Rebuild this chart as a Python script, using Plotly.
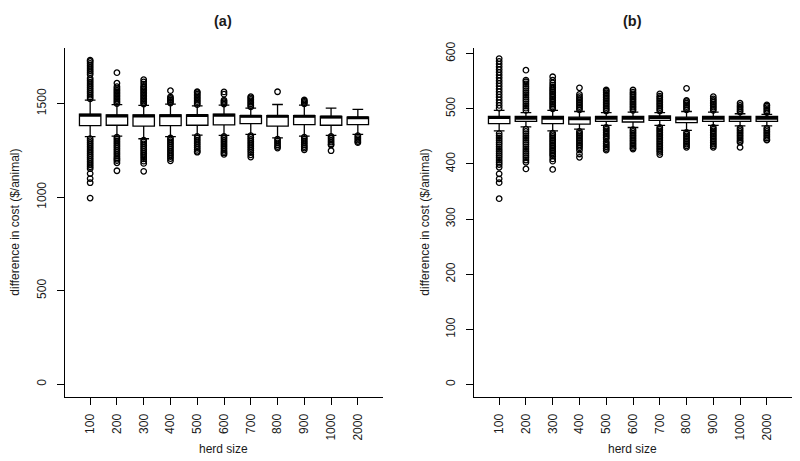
import plotly.graph_objects as go

herd_sizes = ["100", "200", "300", "400", "500", "600", "700", "800", "900", "1000", "2000"]
positions = list(range(1, 12))

# ---- panel (a) ----
a_q1 = [1382, 1384, 1379, 1382, 1384, 1386, 1393, 1379, 1387, 1384, 1387]
a_median = [1438, 1434, 1434, 1435, 1436, 1438, 1432, 1432, 1432, 1428, 1424]
a_q3 = [1443, 1440, 1440, 1440, 1440, 1443, 1436, 1436, 1436, 1431, 1427]
a_upper = [1518, 1494, 1490, 1497, 1488, 1492, 1476, 1495, 1492, 1476, 1469]
a_lower = [1323, 1326, 1312, 1323, 1331, 1330, 1335, 1317, 1326, 1330, 1335]
a_outliers = [
    [1525, 1535, 1545, 1555, 1565, 1575, 1585, 1595, 1605, 1615, 1625, 1635, 1655, 1665, 1675, 1685,
     1695, 1705, 1715, 1725, 1732,
     1312, 1302, 1292, 1282, 1272, 1262, 1252, 1242, 1232, 1222, 1212, 1202, 1192, 1182, 1172, 1162,
     1152, 1126, 1099, 1077, 995],
    [1500, 1508, 1516, 1524, 1532, 1540, 1548, 1556, 1564, 1572, 1580, 1590, 1609, 1665,
     1320, 1310, 1300, 1290, 1280, 1270, 1260, 1250, 1240, 1230, 1220, 1210, 1203, 1195, 1183, 1141],
    [1497, 1505, 1513, 1521, 1529, 1537, 1545, 1553, 1561, 1569, 1577, 1585, 1592, 1604, 1616, 1628,
     1305, 1295, 1285, 1275, 1265, 1255, 1245, 1235, 1225, 1215, 1204, 1192, 1180, 1138],
    [1503, 1511, 1519, 1527, 1535, 1569,
     1316, 1306, 1296, 1286, 1276, 1266, 1256, 1246, 1236, 1226, 1216, 1206, 1194],
    [1494, 1502, 1510, 1518, 1526, 1534, 1542, 1550, 1558, 1563,
     1325, 1315, 1305, 1295, 1285, 1275, 1265, 1255, 1245, 1240],
    [1497, 1504, 1511, 1518, 1550, 1562,
     1324, 1314, 1304, 1294, 1284, 1274, 1264, 1254, 1244, 1236, 1228],
    [1482, 1490, 1498, 1506, 1514, 1522, 1530, 1537,
     1329, 1319, 1309, 1299, 1289, 1279, 1269, 1259, 1249, 1238, 1226, 1214],
    [1563,
     1310, 1300, 1290, 1280, 1270, 1262],
    [1499, 1506, 1513, 1519,
     1320, 1310, 1300, 1290, 1280, 1270, 1262, 1253],
    [1324, 1314, 1304, 1294, 1284, 1278, 1248],
    [1329, 1321, 1313, 1305, 1297, 1291],
]

# ---- panel (b) ----
b_q1 = [473, 477, 473, 472, 477, 476, 479, 475, 477, 477, 477]
b_median = [484, 483, 483, 482, 483, 483, 484, 482, 483, 483, 483]
b_q3 = [486, 486, 486, 485, 486, 486, 487, 485, 486, 486, 486]
b_upper = [497, 493, 497, 495, 493, 494, 493, 495, 494, 491, 490]
b_lower = [460, 467, 460, 463, 470, 466, 470, 461, 470, 469, 469]
b_outliers = [
    [501, 506, 511, 516, 521, 526, 531, 536, 541, 546, 551, 556, 561, 566, 571, 576, 581, 586, 591,
     455, 451, 447, 443, 439, 435, 431, 427, 423, 419, 415, 411, 407, 403, 399, 394, 382, 373, 366, 337],
    [497, 501, 505, 509, 513, 517, 521, 525, 529, 533, 537, 541, 545, 549, 552, 570,
     463, 459, 455, 451, 447, 443, 439, 435, 431, 427, 423, 419, 415, 411, 407, 403, 391],
    [500, 503, 506, 509, 512, 515, 518, 521, 524, 527, 530, 533, 536, 539, 543, 547, 552, 558,
     456, 453, 450, 447, 444, 441, 438, 435, 432, 429, 426, 423, 420, 417, 414, 409, 405, 390],
    [498, 501, 504, 507, 510, 513, 516, 519, 522, 526, 538,
     459, 456, 453, 450, 447, 444, 441, 438, 435, 432, 429, 425, 418, 412],
    [496, 499, 502, 505, 508, 511, 514, 517, 520, 523, 526, 529, 532, 534,
     466, 463, 460, 457, 454, 451, 448, 445, 440, 437, 434, 431, 428, 425],
    [497, 500, 503, 506, 509, 512, 515, 518, 521, 524, 527, 530, 534,
     462, 459, 456, 453, 450, 447, 444, 441, 438, 435, 432, 429, 427],
    [496, 499, 502, 505, 508, 511, 514, 517, 520, 523, 527,
     466, 463, 460, 457, 454, 451, 448, 445, 442, 439, 436, 433, 430, 427, 424, 421, 417],
    [498, 501, 504, 507, 510, 513, 515, 537,
     457, 454, 451, 448, 445, 442, 439, 436, 433, 430],
    [497, 500, 503, 506, 509, 512, 515, 518, 522,
     466, 463, 460, 457, 454, 451, 448, 445, 442, 439, 436, 433, 430],
    [494, 497, 500, 503, 506, 510,
     465, 462, 459, 456, 453, 450, 447, 444, 441, 439, 430],
    [493, 496, 499, 502, 505, 507,
     465, 462, 459, 456, 453, 450, 447, 444, 443],
]

BOX_W = 0.8
FONT = "Liberation Sans, Arial, sans-serif"
TXT = "#1a1a1a"

fig = go.Figure()


def add_panel(q1, med, q3, lo, up, outl, xa, ya):
    fig.add_trace(go.Box(
        x=positions, q1=q1, median=med, q3=q3, lowerfence=lo, upperfence=up,
        width=BOX_W, whiskerwidth=0.5, boxpoints=False,
        fillcolor="white", line=dict(color="black", width=1.3),
        xaxis=xa, yaxis=ya, showlegend=False, hoverinfo="skip"))
    mx, my = [], []
    for p, m in zip(positions, med):
        mx += [p - BOX_W / 2, p + BOX_W / 2, None]
        my += [m, m, None]
    fig.add_trace(go.Scatter(x=mx, y=my, mode="lines", line=dict(color="black", width=3),
                             xaxis=xa, yaxis=ya, showlegend=False, hoverinfo="skip"))
    ox, oy = [], []
    for p, vals in zip(positions, outl):
        ox += [p] * len(vals)
        oy += vals
    fig.add_trace(go.Scatter(x=ox, y=oy, mode="markers",
                             marker=dict(symbol="circle-open", size=5.5, color="black",
                                         line=dict(width=1.3, color="black")),
                             xaxis=xa, yaxis=ya, showlegend=False, hoverinfo="skip"))


add_panel(a_q1, a_median, a_q3, a_lower, a_upper, a_outliers, "x", "y")
add_panel(b_q1, b_median, b_q3, b_lower, b_upper, b_outliers, "x2", "y2")

ydom = [65 / 461, 419 / 461]
xcommon = dict(range=[0.06, 11.94], tickvals=positions, ticktext=herd_sizes, tickangle=-90,
               ticks="outside", ticklen=7, tickwidth=1.2, tickcolor="black",
               showline=True, linecolor="black", linewidth=1.2, showgrid=False, zeroline=False,
               tickfont=dict(family=FONT, size=12, color=TXT), ticklabelstandoff=4)
ycommon = dict(tickangle=-90, ticks="outside", ticklen=7, tickwidth=1.2, tickcolor="black",
               showline=True, linecolor="black", linewidth=1.2, showgrid=False, zeroline=False,
               tickfont=dict(family=FONT, size=12, color=TXT), ticklabelstandoff=6)

fig.update_layout(
    width=800, height=461, margin=dict(l=0, r=0, t=0, b=0),
    paper_bgcolor="white", plot_bgcolor="white",
    xaxis=dict(domain=[65 / 800, 383 / 800], anchor="y", **xcommon),
    xaxis2=dict(domain=[474 / 800, 792 / 800], anchor="y2", **xcommon),
    yaxis=dict(domain=ydom, anchor="x", range=[-68, 1795], tickvals=[0, 500, 1000, 1500], **ycommon),
    yaxis2=dict(domain=ydom, anchor="x2", range=[-22.5, 609.5], tickvals=[0, 100, 200, 300, 400, 500, 600],
                **ycommon),
)

anns = [
    dict(text="<b>(a)</b>", x=223 / 800, y=1 - 14 / 461, font=dict(size=14.5)),
    dict(text="<b>(b)</b>", x=632 / 800, y=1 - 14 / 461, font=dict(size=14.5)),
    dict(text="herd size", x=223 / 800, y=1 - 449 / 461, font=dict(size=12)),
    dict(text="herd size", x=632 / 800, y=1 - 449 / 461, font=dict(size=12)),
    dict(text="difference in cost ($/animal)", x=15 / 800, y=1 - 219 / 461, textangle=-90,
         font=dict(size=12)),
    dict(text="difference in cost ($/animal)", x=425 / 800, y=1 - 219 / 461, textangle=-90,
         font=dict(size=12)),
]
for a in anns:
    a["font"].update(family=FONT, color=TXT)
    fig.add_annotation(xref="paper", yref="paper", showarrow=False, xanchor="center",
                       yanchor="middle", **a)

fig.write_html("out.html", config={"displayModeBar": False},
               post_script="document.body.style.margin='0';document.body.style.overflow='hidden';")
